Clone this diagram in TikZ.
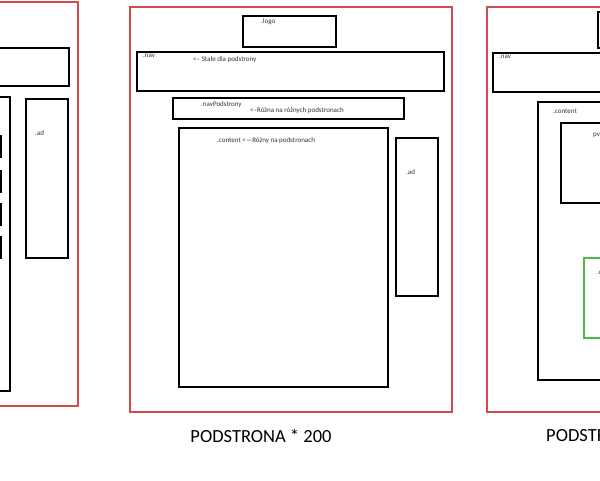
\documentclass[tikz,border=0pt]{standalone}
\usepackage{fontspec}
\setmainfont{Carlito}
\usepackage{tikz}

\tikzset{
  page/.style={draw=red!75!black!70, line width=1.1pt},
  box/.style={draw=black, line width=1.3pt},
  greenbox/.style={draw=green!60!black!70, line width=1.1pt},
  lbl/.style={anchor=west, inner sep=0pt, font=\fontsize{7}{8}\selectfont, text=black!80},
  caption/.style={inner sep=0pt, font=\fontsize{18.5}{20}\selectfont}
}

\begin{document}
\begin{tikzpicture}[x=1pt,y=-1pt]
\useasboundingbox (0,0) rectangle (600,480);
\clip (0,0) rectangle (600,480);
\fill[white] (0,0) rectangle (600,480);
% left page (cut off)
\draw[page] (-40,2) rectangle (78,406);
\draw[box] (-40,48) rectangle (69,86);
\draw[box] (-40,97) rectangle (10,391);
\foreach \y in {136,171,204,237} \draw[box] (-20,\y) rectangle (1,\y+21);
\draw[box] (26,99) rectangle (68,258);
\node[lbl] (adL) at (35,133) {.ad};
% middle page
\draw[page] (130,7) rectangle (452,412);
\draw[box] (243,16) rectangle (336,47);
\node[lbl] (logoM) at (261,22) {.logo};
\draw[box] (137,52) rectangle (444,91);
\node[lbl] (navM) at (143,56) {.nav};
\node[lbl] (staleM) at (193,60) {<-- Stałe dla podstrony};
\draw[box] (173,98) rectangle (404,119);
\node[lbl] (navPodM) at (201,105) {.navPodstrony};
\node[lbl] (roznaM) at (250,111) {<--Różna na różnych podstronach};
\draw[box] (179,128) rectangle (388,387);
\node[lbl] (contentM) at (217,141) {.content <---Różny na podstronach};
\draw[box] (396,138) rectangle (438,296);
\node[lbl] (adM) at (406,172) {.ad};
\node[caption] (capM) at (261,436) {PODSTRONA * 200};
% right page (cut off)
\draw[page] (487,7) rectangle (640,412);
\draw[box] (598,12) rectangle (680,48);
\draw[box] (493,53) rectangle (660,92);
\node[lbl] (navR) at (499,57) {.nav};
\draw[box] (538,102) rectangle (660,380);
\node[lbl] (contentR) at (553,111) {.content};
\draw[box] (561,123) rectangle (660,203);
\node[lbl] (pvR) at (593,135) {pv};
\draw[greenbox] (584,258) rectangle (660,338);
\node[lbl] (cR) at (597,273) {.c};
\node[caption, anchor=west] (capR) at (546,436) {PODSTRONA};
\end{tikzpicture}
\end{document}
